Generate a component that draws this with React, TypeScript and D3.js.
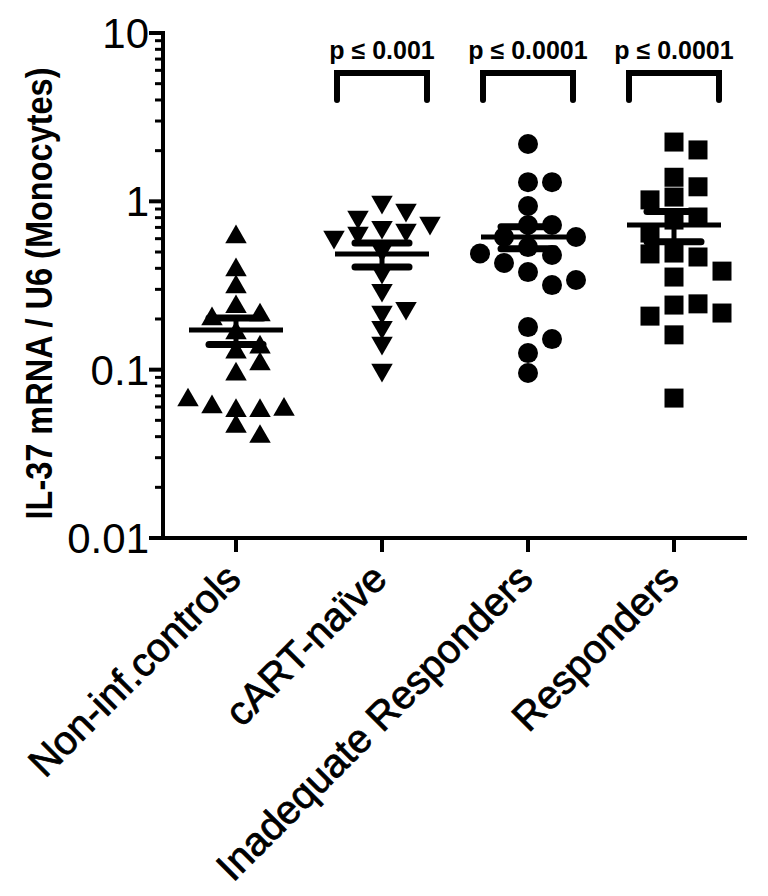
import React from 'react';
import * as d3 from 'd3';

const categories = ['Non-inf.controls', 'cART-naïve', 'Inadequate Responders', 'Responders'];
const shapes = ['triangleUp', 'triangleDown', 'circle', 'square'];

// IL-37 / U6 ratio per subject
const nonInfValues = [0.614, 0.391, 0.31, 0.236, 0.211, 0.2, 0.165, 0.136, 0.127, 0.108, 0.094, 0.057, 0.057, 0.06, 0.058, 0.066, 0.046, 0.04];
const cartNaiveValues = [0.99, 0.888, 0.807, 0.703, 0.743, 0.675, 0.648, 0.614, 0.514, 0.38, 0.297, 0.22, 0.232, 0.179, 0.144, 0.0995];
const inadequateValues = [2.19, 1.3, 1.3, 0.938, 0.723, 0.723, 0.614, 0.614, 0.535, 0.48, 0.49, 0.43, 0.38, 0.318, 0.341, 0.179, 0.152, 0.1255, 0.0955];
const responderValues = [2.25, 2.02, 1.39, 1.22, 1.06, 1.02, 0.774, 0.807, 0.648, 0.493, 0.467, 0.487, 0.385, 0.355, 0.242, 0.246, 0.208, 0.217, 0.161, 0.0678];
const groupValues = [nonInfValues, cartNaiveValues, inadequateValues, responderValues];

const groupMeans = [0.172, 0.486, 0.614, 0.723];
const groupSems = [0.031, 0.079, 0.092, 0.147];

const comparisonGroups = [1, 2, 3];
const comparisonLabels = ['p \u2264 0.001', 'p \u2264 0.0001', 'p \u2264 0.0001'];

const yTickValues = [0.01, 0.1, 1, 10];
const yTickLabels = ['0.01', '0.1', '1', '10'];
const yTitle = 'IL-37 mRNA / U6 (Monocytes)';

const W = 768;
const H = 896;
const margin = { top: 33, left: 163, right: 21, bottom: 358 };
const FONT = "'Liberation Sans', Arial, sans-serif";

const x = d3.scaleBand().domain(categories).range([margin.left, W - margin.right]);
const y = d3.scaleLog().domain([0.01, 10]).range([H - margin.bottom, margin.top]);

// greedy swarm: each point goes to the closest free slot next to the group centre
function swarm(values: number[], gap: number) {
  const placed: { dx: number; py: number }[] = [];
  const step = 12;
  return values.map(v => {
    const py = y(v);
    let k = 0;
    let dx = 0;
    for (;;) {
      const cand = k === 0 ? 0 : (k % 2 === 1 ? 1 : -1) * Math.ceil(k / 2) * step;
      const hit = placed.some(p => Math.abs(p.dx - cand) < gap && Math.abs(p.py - py) < gap);
      if (!hit) { dx = cand; break; }
      k++;
    }
    placed.push({ dx, py });
    return { v, dx, py };
  });
}

const symbolPath = (shape: string) => {
  if (shape === 'circle') return d3.symbol(d3.symbolCircle, Math.PI * 100)();
  if (shape === 'square') return d3.symbol(d3.symbolSquare, 19 * 19)();
  return d3.symbol(d3.symbolTriangle, 200)();
};

export default function App() {
  const minorTicks: number[] = [];
  [0.01, 0.1, 1].forEach(d => { for (let i = 2; i <= 9; i++) minorTicks.push(d * i); });
  const bw = x.bandwidth();
  const axisY = H - margin.bottom;

  return (
    <div style={{ position: 'absolute', left: 0, top: 0 }}>
      <svg width={W} height={H} style={{ display: 'block', background: '#fff' }} fontFamily={FONT}>
        {/* y axis */}
        <line x1={margin.left} x2={margin.left} y1={margin.top - 2} y2={axisY + 2} stroke="#000" strokeWidth={4} />
        {yTickValues.map((t, i) => (
          <g key={t}>
            <line x1={margin.left - 14} x2={margin.left} y1={y(t)} y2={y(t)} stroke="#000" strokeWidth={4} />
            <text x={margin.left - 14} y={y(t)} dy="0.36em" textAnchor="end" fontSize={42}>{yTickLabels[i]}</text>
          </g>
        ))}
        {minorTicks.map(t => (
          <line key={t} x1={margin.left - 8} x2={margin.left} y1={y(t)} y2={y(t)} stroke="#000" strokeWidth={3} />
        ))}
        <text transform={`translate(52,${(margin.top + axisY) / 2 + 8}) rotate(-90)`} textAnchor="middle" fontSize={37} fontWeight="bold" textLength={452} lengthAdjust="spacingAndGlyphs">{yTitle}</text>

        {/* x axis */}
        <line x1={margin.left - 2} x2={W - margin.right} y1={axisY} y2={axisY} stroke="#000" strokeWidth={4} />
        {categories.map(c => {
          const cx = x(c)! + bw / 2;
          return (
            <g key={c}>
              <line x1={cx} x2={cx} y1={axisY} y2={axisY + 14} stroke="#000" strokeWidth={4} />
              <text transform={`translate(${cx + 7},${axisY + 43}) rotate(-45)`} textAnchor="end" fontSize={40} stroke="#000" strokeWidth={0.8}>{c}</text>
            </g>
          );
        })}

        {/* points */}
        {groupValues.map((vals, gi) => {
          const cx = x(categories[gi])! + bw / 2;
          const path = symbolPath(shapes[gi]);
          const gap = gi < 2 ? 15 : 19;
          return (
            <g key={gi}>
              {swarm(vals, gap).map((p, i) => (
                <path key={i} d={path!} fill="#000"
                  transform={`translate(${cx + p.dx},${p.py})${shapes[gi] === 'triangleDown' ? ' rotate(180)' : ''}`} />
              ))}
            </g>
          );
        })}

        {/* mean +- SEM */}
        {groupMeans.map((m, gi) => {
          const cx = x(categories[gi])! + bw / 2;
          const hi = y(m + groupSems[gi]);
          const lo = y(m - groupSems[gi]);
          return (
            <g key={gi} stroke="#000" strokeLinecap="round">
              <line x1={cx} x2={cx} y1={hi} y2={lo} strokeWidth={5} />
              <line x1={cx - 47} x2={cx + 47} y1={y(m)} y2={y(m)} strokeWidth={5} strokeLinecap="butt" />
              <line x1={cx - 27} x2={cx + 27} y1={hi} y2={hi} strokeWidth={7} />
              <line x1={cx - 27} x2={cx + 27} y1={lo} y2={lo} strokeWidth={7} />
            </g>
          );
        })}

        {/* significance brackets */}
        {comparisonGroups.map((g, i) => {
          const cx = x(categories[g])! + bw / 2;
          return (
            <g key={g}>
              <path d={`M${cx - 45},100V73H${cx + 45}V100`} fill="none" stroke="#000" strokeWidth={6} strokeLinecap="round" />
              <text x={cx} y={59} textAnchor="middle" fontSize={25} fontWeight="bold">{comparisonLabels[i]}</text>
            </g>
          );
        })}
      </svg>
    </div>
  );
}
